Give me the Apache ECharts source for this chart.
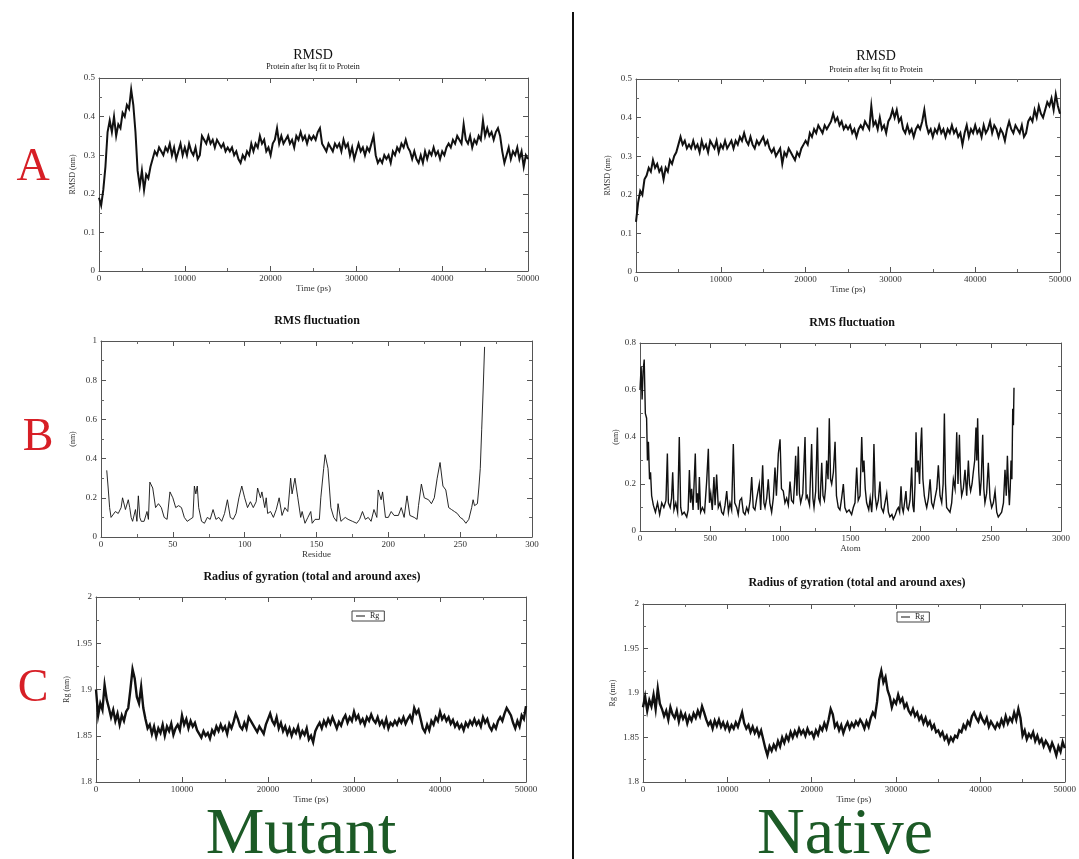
<!DOCTYPE html>
<html>
<head>
<meta charset="utf-8">
<script src="https://cdn.jsdelivr.net/npm/echarts@6/dist/echarts.min.js"></script>
<style>
  html, body { margin: 0; padding: 0; background: #fff; }
  #main { width: 1079px; height: 859px; }
</style>
</head>
<body>
<div id="main"></div>
<script>
// sampling step of the time series (ps)
var timeStep = 250;

// RMSD (nm), mutant, t = 0 .. 50000 ps
var mutantRmsd = [
  0.19,0.17,0.21,0.27,0.36,0.39,0.36,0.40,0.35,0.38,0.37,0.41,0.40,0.43,0.42,0.47,0.43,0.36,0.26,0.22,
  0.26,0.21,0.25,0.24,0.27,0.29,0.31,0.30,0.32,0.31,0.30,0.32,0.31,0.33,0.30,0.32,0.29,0.31,0.33,0.30,
  0.32,0.30,0.33,0.31,0.30,0.32,0.29,0.30,0.35,0.34,0.33,0.35,0.33,0.34,0.32,0.34,0.33,0.32,0.33,0.31,
  0.32,0.31,0.32,0.30,0.31,0.29,0.28,0.30,0.29,0.31,0.30,0.33,0.31,0.33,0.32,0.35,0.33,0.34,0.31,0.32,
  0.30,0.33,0.34,0.37,0.33,0.35,0.33,0.34,0.35,0.33,0.34,0.32,0.35,0.34,0.36,0.34,0.35,0.33,0.35,0.34,
  0.35,0.34,0.36,0.37,0.33,0.32,0.31,0.33,0.32,0.31,0.33,0.32,0.33,0.31,0.34,0.32,0.33,0.30,0.32,0.29,
  0.31,0.33,0.31,0.32,0.30,0.32,0.31,0.33,0.35,0.30,0.28,0.29,0.28,0.30,0.29,0.30,0.28,0.31,0.30,0.32,
  0.31,0.33,0.32,0.34,0.32,0.31,0.29,0.31,0.29,0.28,0.30,0.28,0.31,0.29,0.31,0.30,0.32,0.30,0.31,0.29,
  0.31,0.30,0.32,0.33,0.32,0.34,0.33,0.35,0.34,0.33,0.38,0.34,0.33,0.35,0.32,0.34,0.33,0.35,0.34,0.39,
  0.35,0.37,0.35,0.36,0.34,0.36,0.37,0.35,0.31,0.28,0.30,0.32,0.29,0.31,0.30,0.32,0.29,0.31,0.27,0.30,
  0.29
];

// RMSD (nm), native
var nativeRmsd = [
  0.13,0.18,0.21,0.20,0.24,0.25,0.27,0.26,0.29,0.27,0.28,0.26,0.27,0.24,0.27,0.26,0.29,0.28,0.30,0.31,
  0.33,0.35,0.33,0.34,0.32,0.33,0.32,0.34,0.32,0.33,0.31,0.34,0.32,0.33,0.31,0.34,0.33,0.32,0.34,0.31,
  0.33,0.32,0.34,0.32,0.33,0.34,0.32,0.34,0.33,0.35,0.34,0.36,0.34,0.33,0.35,0.33,0.32,0.34,0.33,0.34,
  0.35,0.33,0.34,0.32,0.31,0.32,0.30,0.31,0.32,0.28,0.31,0.30,0.32,0.31,0.30,0.29,0.31,0.30,0.32,0.33,
  0.34,0.33,0.36,0.35,0.37,0.36,0.38,0.37,0.36,0.38,0.37,0.38,0.39,0.41,0.39,0.40,0.38,0.39,0.37,0.38,
  0.37,0.38,0.36,0.37,0.35,0.37,0.38,0.37,0.39,0.38,0.37,0.43,0.38,0.39,0.37,0.40,0.37,0.38,0.36,0.39,
  0.40,0.42,0.40,0.42,0.39,0.40,0.37,0.36,0.38,0.36,0.37,0.35,0.37,0.38,0.37,0.39,0.42,0.38,0.36,0.37,
  0.35,0.37,0.36,0.38,0.36,0.37,0.35,0.37,0.36,0.38,0.36,0.37,0.35,0.36,0.33,0.36,0.38,0.35,0.37,0.36,
  0.38,0.36,0.37,0.35,0.38,0.36,0.37,0.39,0.36,0.38,0.37,0.35,0.37,0.36,0.34,0.37,0.39,0.37,0.36,0.38,
  0.37,0.36,0.38,0.35,0.36,0.39,0.40,0.39,0.42,0.40,0.43,0.41,0.40,0.42,0.44,0.43,0.45,0.42,0.46,0.43,
  0.41
];

// RMS fluctuation (nm), mutant: [residue, value]
var mutantRmsf = [
  [4,0.34],[5,0.25],[6,0.15],[7,0.10],[8,0.09],[10,0.13],[12,0.12],[14,0.15],[15,0.20],[17,0.14],
  [19,0.19],[20,0.15],[21,0.10],[22,0.08],[24,0.14],[25,0.08],[26,0.21],[27,0.10],[28,0.08],[30,0.08],
  [32,0.13],[33,0.09],[34,0.28],[36,0.25],[38,0.15],[40,0.17],[42,0.15],[44,0.10],[46,0.09],[48,0.23],
  [50,0.20],[52,0.15],[54,0.16],[56,0.15],[58,0.10],[60,0.08],[62,0.09],[64,0.10],[65,0.26],[66,0.22],
  [67,0.26],[68,0.15],[70,0.08],[72,0.07],[74,0.10],[76,0.09],[78,0.14],[80,0.09],[82,0.10],[84,0.08],
  [86,0.12],[88,0.19],[90,0.10],[92,0.09],[94,0.12],[96,0.20],[98,0.26],[100,0.20],[102,0.15],[104,0.18],
  [106,0.15],[108,0.18],[109,0.25],[111,0.20],[112,0.23],[114,0.15],[115,0.20],[116,0.12],[118,0.13],[120,0.10],
  [122,0.14],[124,0.20],[126,0.11],[128,0.15],[130,0.13],[132,0.30],[133,0.22],[135,0.30],[137,0.20],[139,0.10],
  [140,0.13],[142,0.07],[144,0.10],[146,0.13],[147,0.07],[149,0.09],[152,0.09],[153,0.20],[155,0.35],[156,0.42],
  [158,0.35],[160,0.15],[162,0.10],[164,0.08],[165,0.17],[167,0.08],[170,0.10],[172,0.09],[175,0.08],[178,0.07],
  [180,0.09],[182,0.13],[184,0.09],[186,0.10],[188,0.08],[190,0.14],[192,0.10],[193,0.24],[195,0.19],[196,0.23],
  [198,0.10],[200,0.10],[202,0.13],[204,0.11],[207,0.11],[209,0.15],[211,0.10],[213,0.21],[215,0.11],[218,0.10],
  [220,0.09],[221,0.16],[223,0.27],[225,0.20],[228,0.19],[230,0.17],[232,0.20],[234,0.30],[236,0.38],[238,0.26],
  [240,0.24],[242,0.15],[244,0.14],[246,0.13],[248,0.12],[250,0.10],[252,0.09],[254,0.07],[256,0.09],[258,0.15],
  [259,0.19],[260,0.16],[262,0.17],[263,0.25],[264,0.35],[265,0.55],[266,0.75],[267,0.97]
];

// RMS fluctuation (nm), native: [atom, value]
var nativeRmsf = [
  [0,0.60],[8,0.70],[15,0.56],[22,0.68],[30,0.73],[38,0.50],[47,0.48],[53,0.30],[60,0.38],[68,0.22],
  [75,0.25],[83,0.15],[95,0.11],[110,0.08],[125,0.12],[140,0.07],[155,0.12],[170,0.10],[185,0.13],[195,0.33],
  [202,0.12],[215,0.10],[225,0.14],[233,0.25],[242,0.09],[255,0.12],[268,0.08],[280,0.40],[290,0.10],[300,0.07],
  [315,0.08],[333,0.06],[343,0.09],[352,0.26],[360,0.12],[368,0.18],[378,0.09],[394,0.33],[402,0.12],[409,0.16],
  [416,0.09],[423,0.23],[432,0.08],[445,0.10],[460,0.08],[475,0.21],[487,0.35],[495,0.12],[504,0.16],[515,0.09],
  [527,0.23],[535,0.11],[546,0.24],[558,0.10],[570,0.12],[582,0.08],[594,0.07],[606,0.11],[618,0.17],[630,0.08],
  [641,0.12],[653,0.09],[665,0.37],[675,0.12],[689,0.10],[700,0.07],[712,0.13],[724,0.14],[736,0.08],[748,0.07],
  [760,0.10],[772,0.08],[785,0.13],[796,0.23],[807,0.10],[819,0.09],[832,0.14],[850,0.20],[860,0.09],[874,0.28],
  [883,0.12],[891,0.10],[903,0.14],[914,0.22],[925,0.12],[938,0.08],[950,0.14],[962,0.27],[972,0.15],[986,0.33],
  [998,0.39],[1008,0.18],[1021,0.17],[1033,0.12],[1045,0.14],[1057,0.11],[1069,0.21],[1080,0.13],[1093,0.12],[1101,0.20],
  [1109,0.32],[1118,0.15],[1128,0.36],[1136,0.16],[1145,0.12],[1160,0.16],[1176,0.40],[1184,0.14],[1192,0.15],[1208,0.11],
  [1223,0.37],[1232,0.14],[1240,0.10],[1252,0.17],[1264,0.44],[1273,0.14],[1283,0.12],[1295,0.29],[1304,0.15],[1314,0.13],
  [1322,0.18],[1330,0.30],[1340,0.22],[1349,0.48],[1358,0.22],[1366,0.20],[1378,0.25],[1390,0.38],[1400,0.15],[1413,0.10],
  [1425,0.09],[1437,0.14],[1449,0.20],[1460,0.10],[1473,0.08],[1490,0.09],[1508,0.07],[1520,0.10],[1532,0.12],[1544,0.27],
  [1555,0.13],[1568,0.15],[1575,0.30],[1580,0.40],[1588,0.25],[1596,0.30],[1605,0.18],[1615,0.12],[1630,0.09],[1640,0.14],
  [1651,0.08],[1660,0.17],[1667,0.37],[1676,0.15],[1686,0.10],[1698,0.13],[1710,0.21],[1720,0.10],[1734,0.08],[1746,0.12],
  [1758,0.16],[1770,0.08],[1781,0.06],[1795,0.07],[1805,0.05],[1820,0.07],[1831,0.09],[1841,0.10],[1850,0.08],[1860,0.19],
  [1868,0.10],[1876,0.08],[1885,0.12],[1895,0.17],[1903,0.10],[1912,0.09],[1924,0.13],[1936,0.27],[1944,0.11],[1952,0.08],
  [1960,0.20],[1967,0.42],[1975,0.25],[1983,0.30],[1992,0.20],[2000,0.36],[2007,0.44],[2016,0.22],[2026,0.15],[2035,0.12],
  [2043,0.10],[2055,0.14],[2067,0.22],[2078,0.12],[2090,0.10],[2102,0.14],[2115,0.18],[2126,0.28],[2138,0.15],[2150,0.12],
  [2160,0.20],[2169,0.50],[2177,0.20],[2185,0.10],[2197,0.09],[2209,0.08],[2221,0.12],[2233,0.22],[2245,0.18],[2257,0.42],
  [2266,0.20],[2276,0.41],[2284,0.22],[2292,0.15],[2304,0.18],[2316,0.26],[2328,0.15],[2340,0.30],[2348,0.20],[2356,0.17],
  [2366,0.20],[2375,0.25],[2385,0.30],[2394,0.44],[2400,0.30],[2406,0.48],[2414,0.25],[2423,0.15],[2432,0.22],[2442,0.41],
  [2450,0.18],[2458,0.12],[2470,0.16],[2482,0.29],[2494,0.14],[2506,0.10],[2518,0.12],[2530,0.17],[2542,0.08],[2553,0.06],
  [2565,0.07],[2577,0.08],[2590,0.12],[2601,0.26],[2610,0.15],[2618,0.32],[2625,0.20],[2632,0.11],[2638,0.18],[2644,0.30],
  [2650,0.22],[2656,0.52],[2661,0.45],[2665,0.61]
];

// Radius of gyration (nm), mutant
var mutantRg = [
  1.900,1.872,1.885,1.878,1.905,1.889,1.880,1.870,1.878,1.866,1.874,1.862,1.872,1.866,1.876,1.880,1.900,1.922,1.912,1.892,
  1.885,1.903,1.880,1.868,1.858,1.862,1.852,1.860,1.849,1.858,1.853,1.862,1.850,1.860,1.855,1.863,1.851,1.858,1.862,1.856,
  1.872,1.862,1.868,1.858,1.866,1.860,1.864,1.856,1.852,1.848,1.855,1.850,1.853,1.847,1.856,1.852,1.860,1.855,1.862,1.856,
  1.860,1.852,1.863,1.858,1.865,1.874,1.868,1.860,1.857,1.864,1.858,1.870,1.866,1.862,1.858,1.854,1.860,1.856,1.852,1.862,
  1.868,1.874,1.866,1.862,1.870,1.858,1.864,1.855,1.860,1.852,1.858,1.850,1.857,1.853,1.860,1.849,1.855,1.851,1.858,1.846,
  1.850,1.843,1.855,1.860,1.864,1.858,1.866,1.861,1.868,1.863,1.870,1.864,1.858,1.865,1.861,1.868,1.872,1.864,1.870,1.866,
  1.876,1.868,1.872,1.864,1.868,1.862,1.870,1.866,1.873,1.867,1.864,1.870,1.862,1.866,1.860,1.868,1.858,1.864,1.861,1.866,
  1.862,1.868,1.864,1.870,1.863,1.868,1.872,1.866,1.880,1.874,1.878,1.868,1.858,1.854,1.862,1.856,1.866,1.862,1.870,1.866,
  1.876,1.868,1.872,1.866,1.870,1.863,1.867,1.860,1.864,1.858,1.862,1.856,1.864,1.860,1.866,1.862,1.868,1.862,1.866,1.860,
  1.870,1.864,1.868,1.860,1.856,1.862,1.858,1.866,1.870,1.866,1.874,1.880,1.876,1.872,1.864,1.858,1.866,1.860,1.872,1.868,
  1.882
];

// Radius of gyration (nm), native
var nativeRg = [
  1.884,1.896,1.880,1.892,1.885,1.898,1.882,1.905,1.888,1.882,1.874,1.880,1.870,1.884,1.876,1.872,1.880,1.868,1.878,1.871,
  1.876,1.866,1.874,1.869,1.877,1.872,1.880,1.874,1.885,1.878,1.870,1.864,1.868,1.860,1.869,1.863,1.870,1.862,1.867,1.860,
  1.866,1.858,1.864,1.860,1.867,1.862,1.870,1.878,1.866,1.860,1.864,1.856,1.862,1.855,1.860,1.852,1.858,1.848,1.838,1.830,
  1.840,1.835,1.842,1.837,1.846,1.840,1.850,1.844,1.852,1.847,1.856,1.850,1.857,1.852,1.860,1.854,1.858,1.852,1.860,1.854,
  1.856,1.850,1.858,1.853,1.862,1.858,1.866,1.860,1.870,1.882,1.876,1.862,1.866,1.858,1.864,1.855,1.862,1.867,1.860,1.866,
  1.862,1.868,1.864,1.870,1.866,1.860,1.868,1.862,1.872,1.878,1.874,1.890,1.915,1.925,1.912,1.918,1.903,1.896,1.884,1.892,
  1.888,1.898,1.890,1.894,1.884,1.888,1.880,1.876,1.882,1.874,1.878,1.870,1.874,1.866,1.872,1.864,1.868,1.860,1.864,1.856,
  1.858,1.852,1.856,1.848,1.852,1.844,1.850,1.846,1.852,1.850,1.858,1.856,1.864,1.860,1.868,1.864,1.874,1.878,1.872,1.868,
  1.876,1.870,1.866,1.872,1.862,1.868,1.864,1.860,1.866,1.862,1.870,1.864,1.874,1.866,1.872,1.868,1.878,1.870,1.882,1.872,
  1.852,1.858,1.848,1.854,1.850,1.856,1.846,1.852,1.844,1.848,1.840,1.846,1.842,1.836,1.844,1.838,1.830,1.840,1.834,1.845,
  1.838
];

var serif = "'Liberation Serif', 'DejaVu Serif', serif";

function timeSeries(arr) {
  return arr.map(function (v, i) { return [i * timeStep, v]; });
}

// panel layout (pixels) and axis ranges
var panels = [
  { grid: { left: 99, top: 78, width: 429, height: 193 },
    x: [0, 50000, 10000, 'Time (ps)'], y: [0, 0.5, 0.1, 'RMSD (nm)', 22], data: timeSeries(mutantRmsd), lw: 2 },
  { grid: { left: 636, top: 79, width: 424, height: 193 },
    x: [0, 50000, 10000, 'Time (ps)'], y: [0, 0.5, 0.1, 'RMSD (nm)', 24], data: timeSeries(nativeRmsd), lw: 2 },
  { grid: { left: 101, top: 341, width: 431, height: 196 },
    x: [0, 300, 50, 'Residue'], y: [0, 1, 0.2, '(nm)', 24], data: mutantRmsf, lw: 0.9 },
  { grid: { left: 640, top: 343, width: 421, height: 188 },
    x: [0, 3000, 500, 'Atom'], y: [0, 0.8, 0.2, '(nm)', 20], data: nativeRmsf, lw: 1.4 },
  { grid: { left: 96, top: 597, width: 430, height: 185 },
    x: [0, 50000, 10000, 'Time (ps)'], y: [1.8, 2, 0.05, 'Rg (nm)', 25], data: timeSeries(mutantRg), lw: 2.4, name: 'Rg' },
  { grid: { left: 643, top: 604, width: 424, height: 178 },
    x: [0, 50000, 10000, 'Time (ps)'], y: [1.8, 2, 0.05, 'Rg (nm)', 26], data: timeSeries(nativeRg), lw: 2.4, name: 'Rg' }
];

var axisLine = { show: true, onZero: false, lineStyle: { color: '#555', width: 1 } };
var tick = { show: true, inside: true, length: 5, lineStyle: { color: '#555' } };
var minor = { show: true, splitNumber: 2, length: 3, lineStyle: { color: '#666' } };
var label = {
  color: '#333', fontFamily: serif, fontSize: 9,
  formatter: function (v) { return String(parseFloat(v.toFixed(3))); }
};

var grids = [], xAxes = [], yAxes = [], series = [];
panels.forEach(function (p, i) {
  grids.push(p.grid);
  // bottom / left axes with labels, top / right ones only for the frame ticks
  xAxes.push({
    type: 'value', gridIndex: i, position: 'bottom',
    min: p.x[0], max: p.x[1], interval: p.x[2],
    name: p.x[3], nameLocation: 'middle', nameGap: 11,
    nameTextStyle: { color: '#333', fontFamily: serif, fontSize: 9 },
    axisLine: axisLine, axisTick: tick, minorTick: minor,
    axisLabel: Object.assign({ margin: 3 }, label),
    splitLine: { show: false }
  });
  xAxes.push({
    type: 'value', gridIndex: i, position: 'top',
    min: p.x[0], max: p.x[1], interval: p.x[2],
    axisLine: axisLine, axisTick: tick, minorTick: minor,
    axisLabel: { show: false }, splitLine: { show: false }
  });
  yAxes.push({
    type: 'value', gridIndex: i, position: 'left',
    min: p.y[0], max: p.y[1], interval: p.y[2],
    name: p.y[3], nameLocation: 'middle', nameGap: p.y[4], nameRotate: 90,
    nameTextStyle: { color: '#333', fontFamily: serif, fontSize: 8 },
    axisLine: axisLine, axisTick: tick, minorTick: minor,
    axisLabel: Object.assign({ margin: 4 }, label),
    splitLine: { show: false }
  });
  yAxes.push({
    type: 'value', gridIndex: i, position: 'right',
    min: p.y[0], max: p.y[1], interval: p.y[2],
    axisLine: axisLine, axisTick: tick, minorTick: minor,
    axisLabel: { show: false }, splitLine: { show: false }
  });
  series.push({
    name: p.name || ('s' + i),
    type: 'line', xAxisIndex: 2 * i, yAxisIndex: 2 * i,
    data: p.data, showSymbol: false, symbol: 'none',
    lineStyle: { color: '#111', width: p.lw, join: 'miter' },
    itemStyle: { color: '#111' }
  });
});

function txt(x, y, text, font, color) {
  return {
    type: 'text', x: x, y: y, silent: true,
    style: { text: text, font: font, fill: color || '#111', textAlign: 'center', textVerticalAlign: 'middle' }
  };
}

var legendBase = {
  data: [{ name: 'Rg', icon: 'rect' }],
  itemWidth: 9, itemHeight: 1, itemGap: 4,
  padding: [1, 5, 1, 4], borderColor: '#444', borderWidth: 1,
  textStyle: { fontFamily: serif, fontSize: 8, color: '#222' },
  selectedMode: false
};

var myChart = echarts.init(document.getElementById('main'));
var option = {
  animation: false,
  backgroundColor: '#fff',
  grid: grids,
  xAxis: xAxes,
  yAxis: yAxes,
  series: series,
  legend: [
    Object.assign({ left: 352, top: 611 }, legendBase),
    Object.assign({ left: 897, top: 612 }, legendBase)
  ],
  graphic: [
    // panel titles
    txt(313, 55, 'RMSD', '14px ' + serif),
    txt(313, 67, 'Protein after lsq fit to Protein', '8px ' + serif),
    txt(876, 56, 'RMSD', '14px ' + serif),
    txt(876, 70, 'Protein after lsq fit to Protein', '8px ' + serif),
    txt(317, 321, 'RMS fluctuation', 'bold 12px ' + serif),
    txt(852, 323, 'RMS fluctuation', 'bold 12px ' + serif),
    txt(312, 577, 'Radius of gyration (total and around axes)', 'bold 12px ' + serif),
    txt(857, 583, 'Radius of gyration (total and around axes)', 'bold 12px ' + serif),
    // row letters
    txt(33, 168, 'A', '46px ' + serif, '#d71f26'),
    txt(38, 438, 'B', '46px ' + serif, '#d71f26'),
    txt(33, 689, 'C', '46px ' + serif, '#d71f26'),
    // column labels
    txt(301, 836, 'Mutant', '66px ' + serif, '#1c5a26'),
    txt(845, 836, 'Native', '66px ' + serif, '#1c5a26'),
    // divider
    { type: 'line', silent: true, shape: { x1: 573, y1: 12, x2: 573, y2: 859 },
      style: { stroke: '#111', lineWidth: 2 } }
  ]
};
myChart.setOption(option);
window.addEventListener('resize', function () {
  myChart.resize();
});
</script>
</body>
</html>
